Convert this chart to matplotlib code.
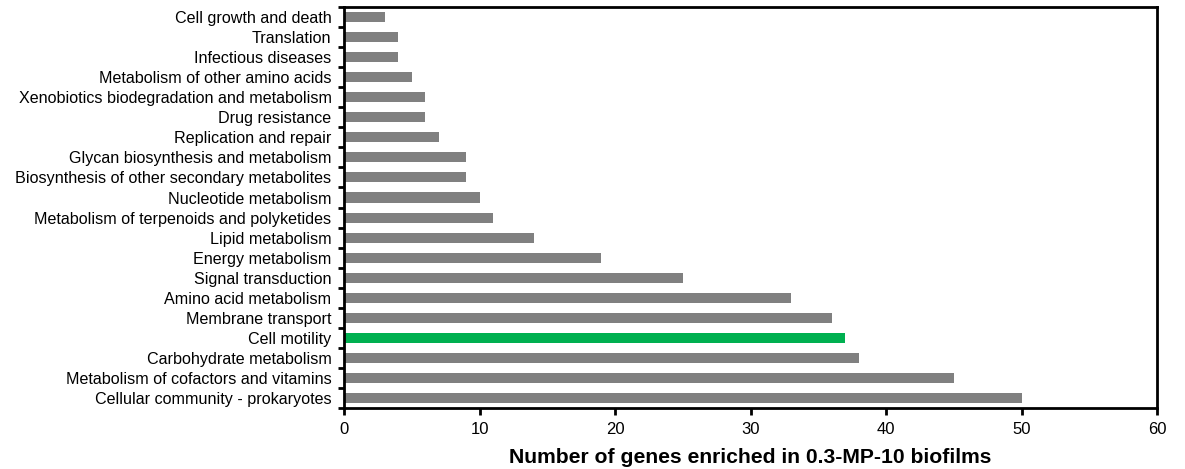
import numpy as np
import matplotlib.pyplot as plt

plt.rcParams['font.family'] = ['Liberation Sans', 'DejaVu Sans']

# categories from bottom to top
categories = [
    "Cellular community - prokaryotes",
    "Metabolism of cofactors and vitamins",
    "Carbohydrate metabolism",
    "Cell motility",
    "Membrane transport",
    "Amino acid metabolism",
    "Signal transduction",
    "Energy metabolism",
    "Lipid metabolism",
    "Metabolism of terpenoids and polyketides",
    "Nucleotide metabolism",
    "Biosynthesis of other secondary metabolites",
    "Glycan biosynthesis and metabolism",
    "Replication and repair",
    "Drug resistance",
    "Xenobiotics biodegradation and metabolism",
    "Metabolism of other amino acids",
    "Infectious diseases",
    "Translation",
    "Cell growth and death",
]
gene_counts = [50, 45, 38, 37, 36, 33, 25, 19, 14, 11, 10, 9, 9, 7, 6, 6, 5, 4, 4, 3]
highlight = "Cell motility"

colors = ["#00B050" if c == highlight else "#808080" for c in categories]

fig = plt.figure(figsize=(11.85, 4.69), dpi=100)
ax = fig.add_axes([0.2903, 0.130, 0.6861, 0.855])

y = np.arange(len(categories))
ax.barh(y, gene_counts, height=0.5, color=colors)

ax.set_ylim(-0.5, len(categories) - 0.5)
ax.set_xlim(0, 60)
ax.set_xticks(range(0, 61, 10))

ax.set_yticks(y)
ax.set_yticklabels(categories, fontsize=11.6)
ax.set_yticks(np.arange(-0.5, len(categories), 1.0), minor=True)
ax.tick_params(axis='y', which='major', length=0, pad=9)
ax.tick_params(axis='y', which='minor', length=4, width=2, direction='out')
ax.tick_params(axis='x', which='major', length=5, width=2, direction='out', labelsize=12, pad=5)

for s in ax.spines.values():
    s.set_linewidth(2)

ax.set_xlabel("Number of genes enriched in 0.3-MP-10 biofilms", fontsize=15.2, fontweight='bold', labelpad=8)

fig.savefig("out.png", dpi=100)
